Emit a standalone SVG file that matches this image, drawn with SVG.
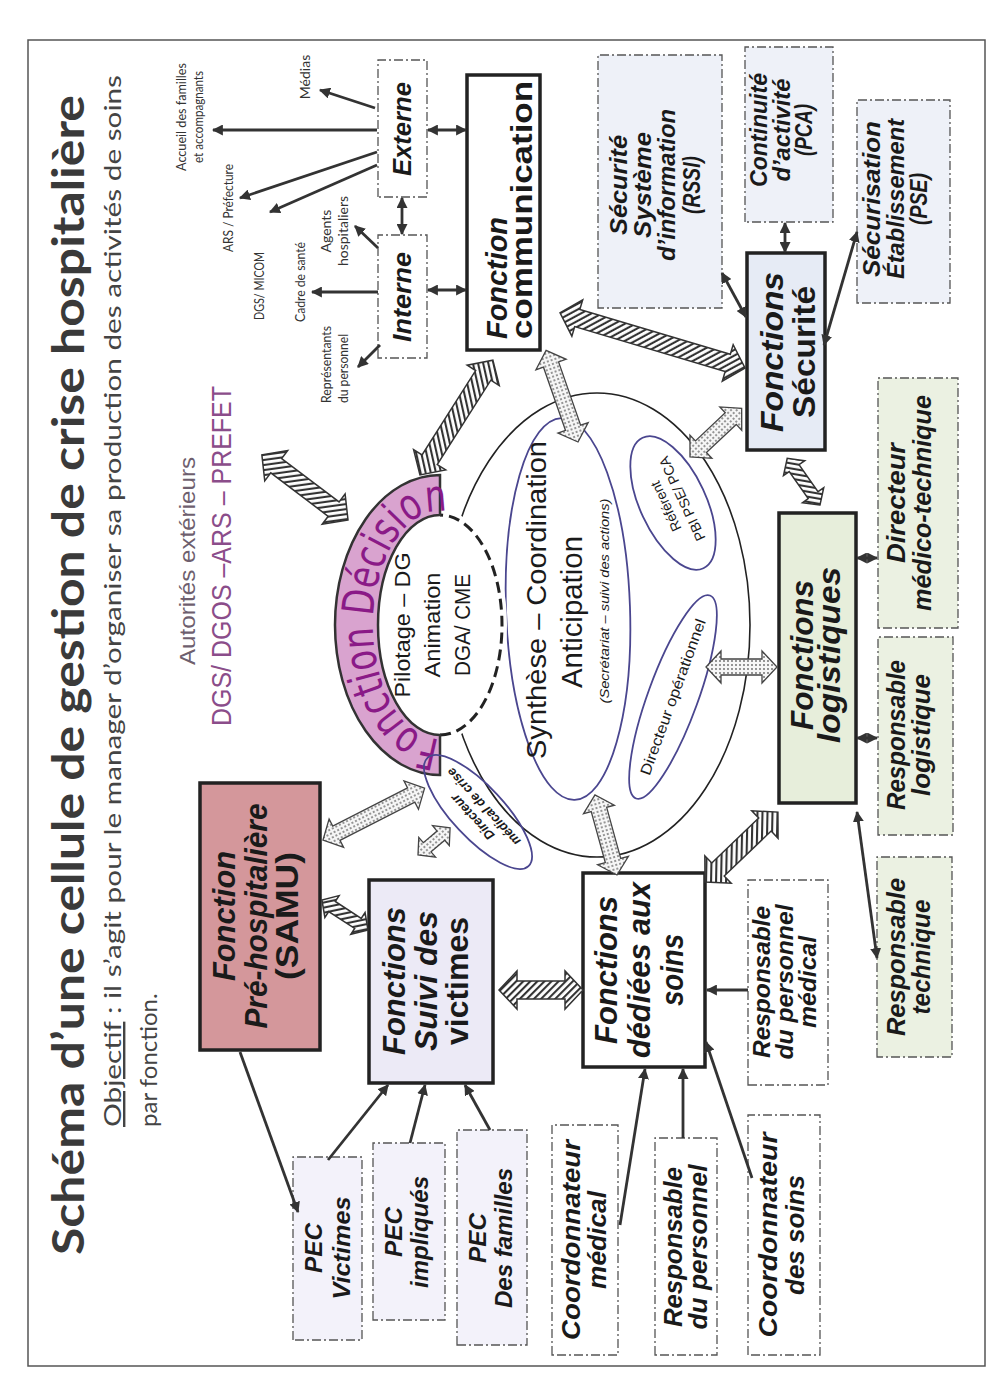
<svg xmlns="http://www.w3.org/2000/svg" width="996" height="1379" viewBox="0 0 996 1379">
<style>
.box{stroke:#222;stroke-width:3.5}
.dbox{stroke:#555;stroke-width:1.3;stroke-dasharray:9 3 2 3}
.ln{stroke:#333;stroke-width:2.8;fill:none}
.bi{font-family:"Liberation Sans",Arial,sans-serif;font-weight:bold;font-style:italic;fill:#1a1a1a;text-anchor:middle}
.bu{font-family:"Liberation Sans",Arial,sans-serif;font-weight:bold;fill:#1a1a1a;text-anchor:middle}
.rg{font-family:"Liberation Sans",Arial,sans-serif;fill:#1a1a1a;text-anchor:middle}
.lbl{font-family:Lato,"Open Sans",sans-serif;font-size:14px;fill:#333;text-anchor:middle}
.hat{fill:url(#hatch);stroke:#333;stroke-width:1.5}
.dot{fill:url(#dots);stroke:#444;stroke-width:1.3}
.ell{fill:none;stroke:#4a468f;stroke-width:1.8}
</style>
<defs>
<pattern id="hatch" width="5" height="5" patternUnits="userSpaceOnUse" patternTransform="rotate(45)"><rect width="5" height="5" fill="#fff"/><line x1="1" y1="0" x2="1" y2="5" stroke="#333" stroke-width="2.2"/></pattern>
<pattern id="dots" width="4" height="4" patternUnits="userSpaceOnUse"><rect width="4" height="4" fill="#f6f6f6"/><circle cx="2" cy="2" r="0.9" fill="#666"/></pattern>
<marker id="ah" viewBox="0 0 10 10" refX="9" refY="5" markerWidth="11" markerHeight="11" markerUnits="userSpaceOnUse" orient="auto-start-reverse"><path d="M0,0 L10,5 L0,10 Z" fill="#333"/></marker>
<path id="arcDec" d="M640,440 A114,67 0 0 1 868,440"/>
</defs>
<rect width="996" height="1379" fill="#fff"/>
<g transform="translate(0,1379) rotate(-90)">
<rect x="13" y="28" width="1326" height="957" fill="none" stroke="#555" stroke-width="1.5"/>

<g id="title">
<text x="124" y="84" font-family="Lato,'Liberation Sans',sans-serif" font-size="44" font-weight="bold" fill="#3a3a3a" textLength="1160" lengthAdjust="spacingAndGlyphs">Schéma d’une cellule de gestion de crise hospitalière</text>
<text x="252" y="121" font-family="Lato,'Liberation Sans',sans-serif" font-size="24" fill="#444" textLength="1052" lengthAdjust="spacingAndGlyphs"><tspan text-decoration="underline">Objectif</tspan> : il s’agit pour le manager d’organiser sa production des activités de soins</text>
<text x="252" y="157" font-family="Lato,'Liberation Sans',sans-serif" font-size="24" fill="#444">par fonction.</text>
</g>

<g id="autorites">
<text x="818" y="195" class="rg" font-size="22" style="fill:#6e5f6e" textLength="208" lengthAdjust="spacingAndGlyphs">Autorités  extérieurs</text>
<text x="823" y="231" class="rg" font-size="27" style="fill:#8b4d8a" textLength="340" lengthAdjust="spacingAndGlyphs">DGS/ DGOS –ARS – PREFET</text>
</g>

<g id="labels-com">
<text class="lbl" x="1302" y="310">Médias</text>
<text class="lbl" x="1262" y="186" textLength="108" lengthAdjust="spacingAndGlyphs">Accueil des familles</text>
<text class="lbl" x="1262" y="203" textLength="92" lengthAdjust="spacingAndGlyphs">et accompagnants</text>
<text class="lbl" x="1171" y="233" textLength="88" lengthAdjust="spacingAndGlyphs">ARS / Préfecture</text>
<text class="lbl" x="1093" y="264" textLength="68" lengthAdjust="spacingAndGlyphs">DGS/ MICOM</text>
<text class="lbl" x="1097" y="305" textLength="80" lengthAdjust="spacingAndGlyphs">Cadre de santé</text>
<text class="lbl" x="1148" y="331">Agents</text>
<text class="lbl" x="1148" y="348">hospitaliers</text>
<text class="lbl" x="976" y="331" style="text-anchor:start" textLength="77" lengthAdjust="spacingAndGlyphs">Représentants</text>
<text class="lbl" x="976" y="348" style="text-anchor:start" textLength="69" lengthAdjust="spacingAndGlyphs">du personnel</text>
</g>

<g id="n-externe">
<rect class="dbox" x="1182" y="378" width="137" height="49" fill="#fff"/>
<text class="bi" x="1250" y="411" font-size="26" textLength="94" lengthAdjust="spacingAndGlyphs">Externe</text>
</g>
<g id="n-interne">
<rect class="dbox" x="1021" y="378" width="123" height="49" fill="#fff"/>
<text class="bi" x="1082" y="411" font-size="26" textLength="90" lengthAdjust="spacingAndGlyphs">Interne</text>
</g>
<g id="n-communication">
<rect class="box" x="1029" y="467" width="275" height="73" fill="#fff"/>
<text class="bi" x="1040" y="507" font-size="30" style="text-anchor:start" textLength="122" lengthAdjust="spacingAndGlyphs">Fonction</text>
<text class="bu" x="1040" y="532" font-size="30" style="text-anchor:start" textLength="258" lengthAdjust="spacingAndGlyphs">communication</text>
</g>

<g id="n-rssi">
<rect class="dbox" x="1071" y="598" width="253" height="124" fill="#eef1f8"/>
<text class="bi" x="1194" y="627" font-size="23" textLength="100" lengthAdjust="spacingAndGlyphs">Sécurité</text>
<text class="bi" x="1194" y="651" font-size="23" textLength="106" lengthAdjust="spacingAndGlyphs">Système</text>
<text class="bi" x="1194" y="675" font-size="23" textLength="152" lengthAdjust="spacingAndGlyphs">d’information</text>
<text class="bi" x="1194" y="700" font-size="23" textLength="58" lengthAdjust="spacingAndGlyphs">(RSSI)</text>
</g>
<g id="n-pca">
<rect class="dbox" x="1157" y="745" width="175" height="88" fill="#eef1f8"/>
<text class="bi" x="1249" y="767" font-size="23" textLength="114" lengthAdjust="spacingAndGlyphs">Continuité</text>
<text class="bi" x="1249" y="790" font-size="23" textLength="103" lengthAdjust="spacingAndGlyphs">d’activité</text>
<text class="bi" x="1249" y="812" font-size="23" textLength="52" lengthAdjust="spacingAndGlyphs">(PCA)</text>
</g>
<g id="n-pse">
<rect class="dbox" x="1076" y="857" width="203" height="93" fill="#eef1f8"/>
<text class="bi" x="1180" y="880" font-size="23" textLength="156" lengthAdjust="spacingAndGlyphs">Sécurisation</text>
<text class="bi" x="1180" y="904" font-size="23" textLength="160" lengthAdjust="spacingAndGlyphs">Établissement</text>
<text class="bi" x="1180" y="927" font-size="23" textLength="52" lengthAdjust="spacingAndGlyphs">(PSE)</text>
</g>
<g id="n-securite">
<rect class="box" x="929" y="747" width="197" height="78" fill="#e6ebf5"/>
<text class="bi" x="1027" y="783" font-size="32" textLength="160" lengthAdjust="spacingAndGlyphs">Fonctions</text>
<text class="bu" x="1027" y="815" font-size="32" textLength="132" lengthAdjust="spacingAndGlyphs">Sécurité</text>
</g>
<g id="n-logistiques">
<rect class="box" x="576" y="779" width="290" height="77" fill="#e7eedb"/>
<text class="bi" x="724" y="813" font-size="32" textLength="150" lengthAdjust="spacingAndGlyphs">Fonctions</text>
<text class="bi" x="724" y="840" font-size="32" textLength="176" lengthAdjust="spacingAndGlyphs">logistiques</text>
</g>
<g id="n-medicotech">
<rect class="dbox" x="751" y="878" width="250" height="80" fill="#ebf1e2"/>
<text class="bi" x="876" y="905" font-size="25" textLength="120" lengthAdjust="spacingAndGlyphs">Directeur</text>
<text class="bi" x="876" y="931" font-size="25" textLength="216" lengthAdjust="spacingAndGlyphs">médico-technique</text>
</g>
<g id="n-resplog">
<rect class="dbox" x="544" y="878" width="198" height="75" fill="#ebf1e2"/>
<text class="bi" x="644" y="905" font-size="25" textLength="150" lengthAdjust="spacingAndGlyphs">Responsable</text>
<text class="bi" x="644" y="930" font-size="25" textLength="122" lengthAdjust="spacingAndGlyphs">logistique</text>
</g>
<g id="n-resptech">
<rect class="dbox" x="322" y="877" width="200" height="75" fill="#ebf1e2"/>
<text class="bi" x="422" y="905" font-size="25" textLength="158" lengthAdjust="spacingAndGlyphs">Responsable</text>
<text class="bi" x="422" y="930" font-size="25" textLength="115" lengthAdjust="spacingAndGlyphs">technique</text>
</g>

<g id="n-prehosp">
<rect class="box" x="329" y="200" width="267" height="120" fill="#d4979b"/>
<text class="bi" x="463" y="235" font-size="32" textLength="130" lengthAdjust="spacingAndGlyphs">Fonction</text>
<text class="bi" x="463" y="267" font-size="32" textLength="225" lengthAdjust="spacingAndGlyphs">Pré-hospitalière</text>
<text class="bu" x="463" y="298" font-size="32" textLength="128" lengthAdjust="spacingAndGlyphs">(SAMU)</text>
</g>
<g id="n-suivi">
<rect class="box" x="296" y="369" width="203" height="124" fill="#eceaf6"/>
<text class="bi" x="398" y="405" font-size="32" textLength="148" lengthAdjust="spacingAndGlyphs">Fonctions</text>
<text class="bi" x="398" y="437" font-size="32" textLength="140" lengthAdjust="spacingAndGlyphs">Suivi des</text>
<text class="bu" x="398" y="468" font-size="32" textLength="128" lengthAdjust="spacingAndGlyphs">victimes</text>
</g>
<g id="n-soins">
<rect class="box" x="312" y="583" width="194" height="122" fill="#fff"/>
<text class="bi" x="409" y="617" font-size="31" textLength="148" lengthAdjust="spacingAndGlyphs">Fonctions</text>
<text class="bi" x="409" y="650" font-size="31" textLength="176" lengthAdjust="spacingAndGlyphs">dédiées aux</text>
<text class="bi" x="409" y="683" font-size="31" textLength="72" lengthAdjust="spacingAndGlyphs">soins</text>
</g>

<g id="n-pec-victimes">
<rect class="dbox" x="39" y="293" width="183" height="69" fill="#f3f2fa"/>
<text class="bi" x="131" y="322" font-size="23" textLength="50" lengthAdjust="spacingAndGlyphs">PEC</text>
<text class="bi" x="131" y="350" font-size="23" textLength="103" lengthAdjust="spacingAndGlyphs">Victimes</text>
</g>
<g id="n-pec-impliques">
<rect class="dbox" x="59" y="373" width="177" height="72" fill="#f3f2fa"/>
<text class="bi" x="147" y="402" font-size="23" textLength="50" lengthAdjust="spacingAndGlyphs">PEC</text>
<text class="bi" x="147" y="428" font-size="23" textLength="112" lengthAdjust="spacingAndGlyphs">impliqués</text>
</g>
<g id="n-pec-familles">
<rect class="dbox" x="34" y="457" width="215" height="70" fill="#f3f2fa"/>
<text class="bi" x="141" y="486" font-size="23" textLength="50" lengthAdjust="spacingAndGlyphs">PEC</text>
<text class="bi" x="141" y="512" font-size="23" textLength="140" lengthAdjust="spacingAndGlyphs">Des familles</text>
</g>
<g id="n-coord-medical">
<rect class="dbox" x="24" y="552" width="230" height="66" fill="#fff"/>
<text class="bi" x="139" y="580" font-size="25" textLength="200" lengthAdjust="spacingAndGlyphs">Coordonnateur</text>
<text class="bi" x="139" y="606" font-size="25" textLength="98" lengthAdjust="spacingAndGlyphs">médical</text>
</g>
<g id="n-resp-personnel">
<rect class="dbox" x="24" y="655" width="217" height="62" fill="#fff"/>
<text class="bi" x="132" y="682" font-size="25" textLength="160" lengthAdjust="spacingAndGlyphs">Responsable</text>
<text class="bi" x="132" y="707" font-size="25" textLength="165" lengthAdjust="spacingAndGlyphs">du personnel</text>
</g>
<g id="n-coord-soins">
<rect class="dbox" x="24" y="748" width="240" height="72" fill="#fff"/>
<text class="bi" x="144" y="777" font-size="25" textLength="205" lengthAdjust="spacingAndGlyphs">Coordonnateur</text>
<text class="bi" x="144" y="804" font-size="25" textLength="120" lengthAdjust="spacingAndGlyphs">des soins</text>
</g>
<g id="n-resp-medical">
<rect class="dbox" x="294" y="748" width="205" height="80" fill="#fff"/>
<text class="bi" x="397" y="770" font-size="24" textLength="152" lengthAdjust="spacingAndGlyphs">Responsable</text>
<text class="bi" x="397" y="793" font-size="24" textLength="155" lengthAdjust="spacingAndGlyphs">du personnel</text>
<text class="bi" x="397" y="816" font-size="24" textLength="92" lengthAdjust="spacingAndGlyphs">médical</text>
</g>

<g id="n-cellule">
<ellipse cx="754" cy="597" rx="232" ry="153" fill="none" stroke="#222" stroke-width="1.6"/>
</g>
<g id="n-synthese">
<ellipse class="ell" cx="770" cy="568" rx="191" ry="62" transform="rotate(-2 770 568)"/>
<text class="rg" x="779" y="546" font-size="28" textLength="318" lengthAdjust="spacingAndGlyphs">Synthèse – Coordination</text>
<text class="rg" x="767" y="582" font-size="29" textLength="152" lengthAdjust="spacingAndGlyphs">Anticipation</text>
<text class="rg" x="778" y="609" font-size="12" font-style="italic" textLength="205" lengthAdjust="spacingAndGlyphs">(Secrétariat – suivi des actions)</text>
</g>
<g id="n-dirop" transform="translate(682,673) rotate(20)">
<ellipse class="ell" cx="0" cy="0" rx="108" ry="25"/>
<text class="rg" x="0" y="5" font-size="15" textLength="165" lengthAdjust="spacingAndGlyphs">Directeur opérationnel</text>
</g>
<g id="n-referent" transform="translate(876,673) rotate(-25)">
<ellipse class="ell" cx="0" cy="0" rx="72" ry="33"/>
<text class="rg" x="0" y="-3" font-size="14">Référent</text>
<text class="rg" x="0" y="15" font-size="14">PBI PSE/ PCA</text>
</g>

<g id="n-decision">
<ellipse cx="754" cy="440" rx="110" ry="62" fill="#fff" stroke="#fff" stroke-width="10"/>
<path d="M644,440 A110,62 0 0 0 864,440" fill="none" stroke="#222" stroke-width="3" stroke-dasharray="11 6"/>
<path d="M604,440 A150,105 0 0 1 904,440 L864,440 A110,62 0 0 0 644,440 Z" fill="#d9a3cf" stroke="#333" stroke-width="2.5"/>
<text font-family="'Liberation Sans Narrow','DejaVu Sans Condensed','Liberation Sans',sans-serif" font-size="44" fill="#8a1a87"><textPath href="#arcDec" textLength="296" lengthAdjust="spacingAndGlyphs">Fonction  Décision</textPath></text>
<text class="rg" x="754" y="410" font-size="22" textLength="145" lengthAdjust="spacingAndGlyphs">Pilotage – DG</text>
<text class="rg" x="754" y="440" font-size="22" textLength="105" lengthAdjust="spacingAndGlyphs">Animation</text>
<text class="rg" x="754" y="470" font-size="22" textLength="102" lengthAdjust="spacingAndGlyphs">DGA/ CME</text>
</g>
<g id="n-dirmed" transform="translate(567,478) rotate(-43)">
<ellipse class="ell" cx="0" cy="0" rx="74" ry="26"/>
<text class="bi" x="0" y="-3" font-size="13">Directeur</text>
<text class="bi" x="0" y="12" font-size="13">médical de crise</text>
</g>

<g id="connectors">
<line class="ln" x1="1271" y1="375" x2="1289" y2="320" marker-end="url(#ah)"/>
<line class="ln" x1="1249" y1="377" x2="1249" y2="213" marker-end="url(#ah)"/>
<line class="ln" x1="1227" y1="377" x2="1181" y2="240" marker-end="url(#ah)"/>
<line class="ln" x1="1214" y1="377" x2="1167" y2="270" marker-end="url(#ah)"/>
<line class="ln" x1="1181" y1="402" x2="1145" y2="402" marker-start="url(#ah)" marker-end="url(#ah)"/>
<line class="ln" x1="1131" y1="378" x2="1153" y2="355" marker-end="url(#ah)"/>
<line class="ln" x1="1087" y1="378" x2="1087" y2="312" marker-end="url(#ah)"/>
<line class="ln" x1="1034" y1="380" x2="1012" y2="358" marker-end="url(#ah)"/>
<line class="ln" x1="1249" y1="428" x2="1249" y2="466" marker-start="url(#ah)" marker-end="url(#ah)"/>
<line class="ln" x1="1089" y1="428" x2="1089" y2="466" marker-start="url(#ah)" marker-end="url(#ah)"/>
<line class="ln" x1="1156" y1="785" x2="1127" y2="785" marker-start="url(#ah)" marker-end="url(#ah)"/>
<line class="ln" x1="1062" y1="746" x2="1106" y2="722" marker-start="url(#ah)" marker-end="url(#ah)"/>
<line class="ln" x1="1034" y1="824" x2="1147" y2="857" marker-start="url(#ah)" marker-end="url(#ah)"/>
<line class="ln" x1="821" y1="857" x2="821" y2="877" marker-start="url(#ah)" marker-end="url(#ah)"/>
<line class="ln" x1="641" y1="857" x2="641" y2="877" marker-start="url(#ah)" marker-end="url(#ah)"/>
<line class="ln" x1="567" y1="857" x2="421" y2="877" marker-start="url(#ah)" marker-end="url(#ah)"/>
<line class="ln" x1="327" y1="240" x2="167" y2="298" marker-end="url(#ah)"/>
<line class="ln" x1="219" y1="328" x2="294" y2="388" marker-end="url(#ah)"/>
<line class="ln" x1="236" y1="410" x2="294" y2="425" marker-end="url(#ah)"/>
<line class="ln" x1="249" y1="490" x2="294" y2="465" marker-end="url(#ah)"/>
<line class="ln" x1="154" y1="620" x2="310" y2="645" marker-end="url(#ah)"/>
<line class="ln" x1="241" y1="683" x2="310" y2="683" marker-end="url(#ah)"/>
<line class="ln" x1="201" y1="752" x2="337" y2="706" marker-end="url(#ah)"/>
<line class="ln" x1="389" y1="748" x2="389" y2="707" marker-end="url(#ah)"/>
<path class="hat" transform="translate(859,348) rotate(-52.9)" d="M0,0L18,-19L18,-9L90,-9L90,-19L108,0L90,19L90,9L18,9L18,19Z"/>
<path class="hat" transform="translate(904,420) rotate(32.4)" d="M0,0L18,-19L18,-9L118,-9L118,-19L136,0L118,19L118,9L18,9L18,19Z"/>
<path class="hat" transform="translate(1011,745) rotate(-73.4)" d="M0,0L18,-19L18,-9L175,-9L175,-19L193,0L175,19L175,9L18,9L18,19Z"/>
<path class="dot" transform="translate(937,578) rotate(-19.2)" d="M0,0L15,-16L15,-8L82,-8L82,-16L97,0L82,16L82,8L15,8L15,16Z"/>
<path class="dot" transform="translate(922,690) rotate(46.7)" d="M0,0L15,-16L15,-8L56,-8L56,-16L71,0L56,16L56,8L15,8L15,16Z"/>
<path class="hat" transform="translate(874,820) rotate(-35.1)" d="M0,0L12,-13L12,-6L45,-6L45,-13L57,0L45,13L45,6L12,6L12,13Z"/>
<path class="dot" transform="translate(712,706) rotate(90)" d="M0,0L15,-16L15,-8L56,-8L56,-16L71,0L56,16L56,8L15,8L15,16Z"/>
<path class="hat" transform="translate(497,705) rotate(46.2)" d="M0,0L18,-19L18,-9L83,-9L83,-19L101,0L83,19L83,9L18,9L18,19Z"/>
<path class="dot" transform="translate(504,617) rotate(-15.4)" d="M0,0L15,-16L15,-8L68,-8L68,-16L83,0L68,16L68,8L15,8L15,16Z"/>
<path class="hat" transform="translate(389,499) rotate(90)" d="M0,0L18,-19L18,-9L66,-9L66,-19L84,0L66,19L66,9L18,9L18,19Z"/>
<path class="hat" transform="translate(449,368) rotate(-56.9)" d="M0,0L12,-13L12,-6L43,-6L43,-13L55,0L43,13L43,6L12,6L12,13Z"/>
<path class="dot" transform="translate(539,323) rotate(63)" d="M0,0L15,-16L15,-8L99,-8L99,-16L114,0L99,16L99,8L15,8L15,16Z"/>
<path class="dot" transform="translate(524,418) rotate(49.8)" d="M0,0L12,-13L12,-6L30,-6L30,-13L42,0L30,13L30,6L12,6L12,13Z"/>
</g>
</g>
</svg>
